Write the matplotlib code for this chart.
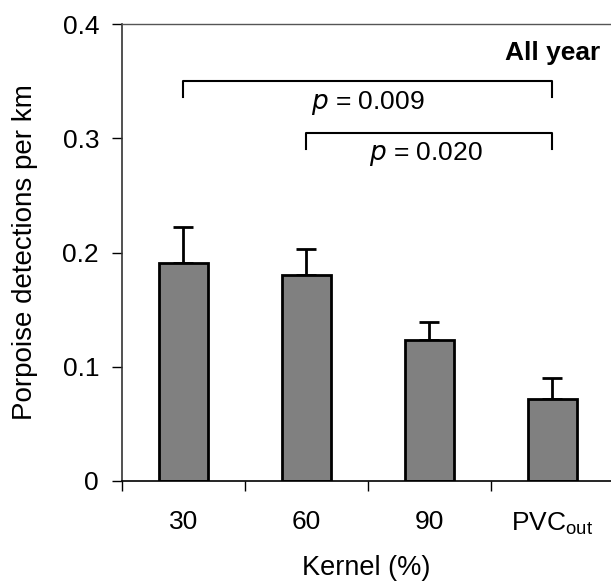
import numpy as np
import matplotlib.pyplot as plt

plt.rcParams['font.family'] = ['Liberation Sans', 'DejaVu Sans']

# data
categories = ['30', '60', '90', 'PVC$_{\\mathregular{out}}$']
means = [0.191, 0.180, 0.123, 0.072]
errors = [0.031, 0.023, 0.016, 0.018]

# significance brackets: (from, to, height, drop, label)
brackets = [(0, 3, 0.350, 0.014, '$p$ = 0.009'),
            (1, 3, 0.305, 0.014, '$p$ = 0.020')]

FS = 19

fig = plt.figure(figsize=(6.11, 5.85), dpi=100)
ax = fig.add_axes([122 / 611, 1 - 481 / 585, 1 - 122 / 611, (481 - 24) / 585])

x = np.arange(len(categories))
ax.bar(x, means, width=0.4, color='#808080', edgecolor='black', linewidth=2, zorder=2)
ax.errorbar(x, means, yerr=[np.zeros(len(errors)), errors], fmt='none',
            ecolor='black', elinewidth=2, capsize=7.5, capthick=2, zorder=1)

for a, b, h, d, label in brackets:
    ax.plot([a, a, b, b], [h - d, h, h, h - d], color='black', lw=1.5, clip_on=False)
for (a, b, h, d, label), tx, ty in zip(brackets, [1.5, 1.97], [0.331, 0.286]):
    ax.text(tx, ty, label, ha='center', va='center', fontsize=FS)

# "All year" tag in the upper right corner (axes fraction)
ax.text(0.978, 0.9375, 'All year', transform=ax.transAxes,
        ha='right', va='center', fontsize=FS, fontweight='bold')

ax.set_xlim(-0.5, 3.476)
ax.set_ylim(0, 0.4)
ax.set_yticks([0, 0.1, 0.2, 0.3, 0.4])
ax.set_yticklabels(['0', '0.1', '0.2', '0.3', '0.4'])
ax.set_xticks(x)
ax.set_xticklabels(categories)
ax.set_xticks(np.arange(-0.5, 3.5, 1.0), minor=True)
ax.tick_params(axis='x', which='major', length=0, pad=21, labelsize=FS)
ax.tick_params(axis='x', which='minor', length=7, width=1, direction='out')
ax.tick_params(axis='y', length=7, width=1, pad=9.5, labelsize=FS)

ax.spines['right'].set_visible(False)
ax.spines['top'].set_color('#555555')
ax.spines['top'].set_linewidth(1)
ax.spines['left'].set_color('#333333')
ax.spines['left'].set_linewidth(1.2)
ax.spines['bottom'].set_linewidth(1.2)

ax.set_xlabel('Kernel (%)', fontsize=19.5, labelpad=13)
ax.set_ylabel('Porpoise detections per km', fontsize=20)
ax.yaxis.set_label_coords(-84 / 489, 0.5)

fig.savefig('out.png', dpi=100)
